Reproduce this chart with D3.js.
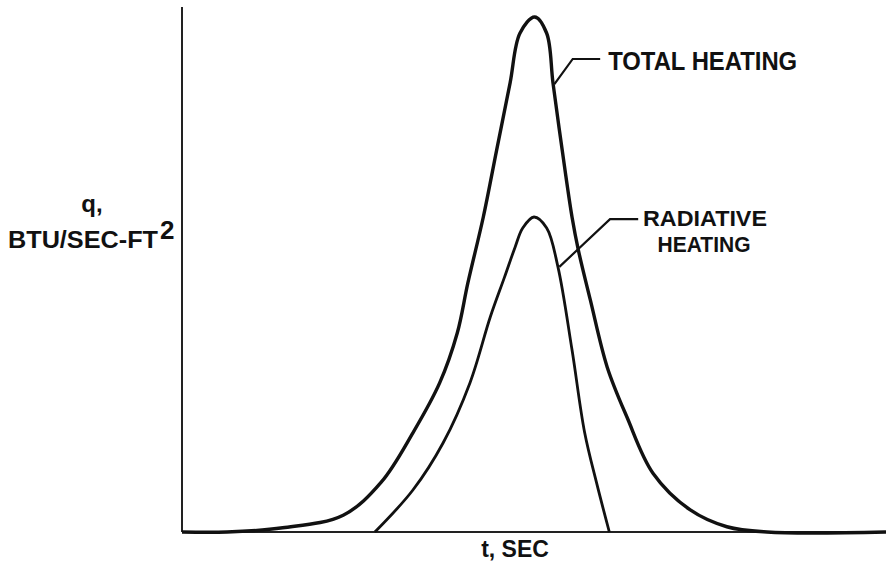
<!DOCTYPE html>
<html>
<head>
<meta charset="utf-8">
<script src="https://cdn.jsdelivr.net/npm/d3@7"></script>
<style>
  html, body { margin: 0; padding: 0; background: #fff; }
  svg text { font-family: "Liberation Sans", Arial, sans-serif; font-weight: bold; fill: #111; }
</style>
</head>
<body>
<div id="grafico"></div>
<script>
// Curvas de aquecimento (unidades arbitrárias)
const tTotal = [0, 6.4, 14.3, 22.9, 28.3, 32.8, 36.6, 39.1, 40.6, 42.8, 44.7, 46.6, 48.0, 50.1, 51.8, 52.7, 54.0, 55.4, 56.3, 58.0, 60.4, 63.2, 66.9, 72.2, 77.4, 83.1, 100];
const qTotal = [0, 0, 0.8, 3.2, 9.5, 18.9, 28.4, 37.9, 47.4, 60, 72.8, 85.5, 95, 98.1, 95, 85.5, 72.8, 60, 53.7, 44.2, 31.4, 21.9, 11.2, 4.2, 1.0, 0, 0];

const tRad = [27.4, 32.8, 37.1, 40.9, 43.8, 45.8, 47.3, 48.4, 50.0, 51.8, 53.4, 55.4, 57.2, 58.9, 60.7];
const qRad = [0, 8.0, 17.0, 28.4, 41.0, 48.5, 54.2, 57.9, 60, 57.9, 50.5, 34.7, 18.9, 9.3, 0];

// Rótulos com linha de chamada: [t, q] de início, cotovelo e fim
const chamadaTotal = [[52.9, 85.3], [55.5, 90.1], [59.4, 90.1]];
const chamadaRad = [[53.6, 50.5], [60.8, 59.6], [64.8, 59.6]];

document.addEventListener('DOMContentLoaded', function() {
  const width = 886, height = 567;
  const svg = d3.select('#grafico').append('svg')
    .attr('width', width)
    .attr('height', height)
    .style('background', '#fff');

  const x = d3.scaleLinear().domain([0, 100]).range([182, 886]);
  const y = d3.scaleLinear().domain([0, 100]).range([532, 7]);

  // Eixos sem marcas
  svg.append('line')
    .attr('x1', x(0)).attr('y1', y(0)).attr('x2', x(0)).attr('y2', y(100))
    .attr('stroke', '#222').attr('stroke-width', 2);
  svg.append('line')
    .attr('x1', x(0)).attr('y1', y(0)).attr('x2', x(100)).attr('y2', y(0))
    .attr('stroke', '#222').attr('stroke-width', 2);

  const linha = d3.line()
    .x(d => x(d[0]))
    .y(d => y(d[1]))
    .curve(d3.curveCatmullRom.alpha(0.5));

  svg.append('path')
    .datum(d3.zip(tTotal, qTotal))
    .attr('d', linha)
    .attr('fill', 'none')
    .attr('stroke', '#111')
    .attr('stroke-width', 3.4)
    .attr('stroke-linejoin', 'round');

  svg.append('path')
    .datum(d3.zip(tRad, qRad))
    .attr('d', linha)
    .attr('fill', 'none')
    .attr('stroke', '#111')
    .attr('stroke-width', 2.8)
    .attr('stroke-linejoin', 'round');

  // Linhas de chamada
  const reta = d3.line().x(d => x(d[0])).y(d => y(d[1]));
  [chamadaTotal, chamadaRad].forEach(c => {
    svg.append('path')
      .attr('d', reta(c))
      .attr('fill', 'none')
      .attr('stroke', '#111')
      .attr('stroke-width', 2.2);
  });

  svg.append('text')
    .attr('x', x(chamadaTotal[2][0]) + 8)
    .attr('y', y(chamadaTotal[2][1]) + 11)
    .attr('font-size', 25)
    .attr('textLength', 189)
    .attr('lengthAdjust', 'spacingAndGlyphs')
    .text('TOTAL HEATING');

  svg.append('text')
    .attr('x', 705).attr('y', y(chamadaRad[2][1]) + 7)
    .attr('text-anchor', 'middle')
    .attr('font-size', 22)
    .attr('textLength', 124)
    .attr('lengthAdjust', 'spacingAndGlyphs')
    .text('RADIATIVE');
  svg.append('text')
    .attr('x', 704).attr('y', y(chamadaRad[2][1]) + 33)
    .attr('text-anchor', 'middle')
    .attr('font-size', 22)
    .attr('textLength', 93)
    .attr('lengthAdjust', 'spacingAndGlyphs')
    .text('HEATING');

  // Títulos dos eixos
  svg.append('text')
    .attr('x', 92).attr('y', 212)
    .attr('text-anchor', 'middle')
    .attr('font-size', 24)
    .text('q,');
  const rotY = svg.append('text')
    .attr('x', 8).attr('y', 248)
    .attr('font-size', 24);
  rotY.append('tspan')
    .attr('textLength', 150)
    .attr('lengthAdjust', 'spacingAndGlyphs')
    .text('BTU/SEC-FT');
  rotY.append('tspan')
    .attr('dx', 2)
    .attr('dy', -9)
    .attr('font-size', 26)
    .text('2');

  svg.append('text')
    .attr('x', 515).attr('y', 557)
    .attr('text-anchor', 'middle')
    .attr('font-size', 23)
    .text('t, SEC');
});
</script>
</body>
</html>
